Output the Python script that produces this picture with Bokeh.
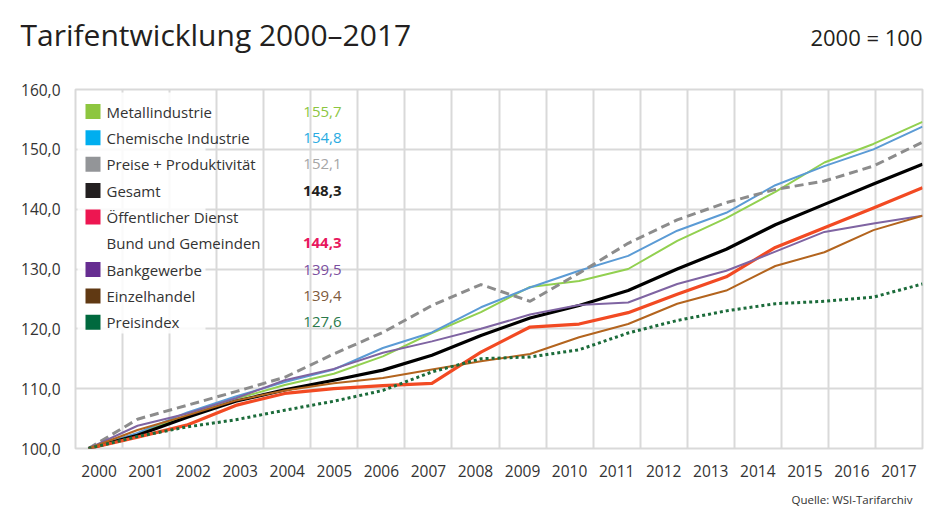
from bokeh.plotting import figure
from bokeh.models import FixedTicker, Label, Range1d, BoxAnnotation
from bokeh.embed import file_html
from bokeh.resources import INLINE

# ---------------- data ----------------
years = list(range(2000, 2018))

metall      = [100, 102.5, 105.5, 108.3, 110.6, 112.5, 115.4, 119.3, 122.8, 127.0, 128.0, 130.0, 134.7, 138.5, 142.9, 147.8, 150.9, 154.6]
chemie      = [100, 102.6, 106.0, 108.7, 111.1, 113.2, 116.8, 119.4, 123.6, 126.9, 129.7, 132.2, 136.4, 139.4, 144.0, 147.2, 150.0, 153.8]
preise_prod = [100, 104.9, 107.2, 109.5, 111.9, 115.8, 119.4, 123.9, 127.4, 124.6, 129.3, 134.3, 138.2, 141.1, 143.3, 144.7, 147.2, 151.2]
gesamt      = [100, 102.2, 105.2, 107.9, 109.8, 111.4, 113.1, 115.6, 118.9, 121.8, 123.9, 126.4, 130.0, 133.3, 137.4, 140.8, 144.2, 147.5]
oeff_dienst = [100, 101.9, 103.9, 107.2, 109.2, 110.0, 110.5, 110.9, 116.1, 120.3, 120.8, 122.7, 125.8, 128.7, 133.6, 136.9, 140.2, 143.6]
bank        = [100, 103.8, 105.8, 108.4, 111.4, 113.3, 116.0, 117.9, 120.0, 122.4, 124.0, 124.4, 127.5, 129.7, 132.9, 136.2, 137.6, 138.9]
einzel      = [100, 103.1, 105.5, 108.0, 109.7, 110.9, 111.8, 113.2, 114.6, 115.8, 118.6, 120.8, 124.2, 126.4, 130.5, 132.8, 136.5, 138.9]
preisindex  = [100, 102.0, 103.6, 104.8, 106.4, 107.9, 109.7, 112.8, 115.0, 115.3, 116.5, 119.3, 121.4, 123.0, 124.2, 124.6, 125.3, 127.5]

legend_names  = ["Metallindustrie", "Chemische Industrie", "Preise + Produktivität", "Gesamt",
                 "Öffentlicher Dienst", "Bankgewerbe", "Einzelhandel", "Preisindex"]
legend_values = [155.7, 154.8, 152.1, 148.3, 144.3, 139.5, 139.4, 127.6]

y_ticks = [100, 110, 120, 130, 140, 150, 160]
tick_years = [str(y) for y in years]

title_text = "Tarifentwicklung 2000–2017"
base_text = "2000 = 100"
source_text = "Quelle: WSI-Tarifarchiv"

# ---------------- styles ----------------
FONT = "Open Sans"
TXT = "#333333"
GRID = "#d9d9d9"

line_styles = [
    (metall,      "#92d050", 2.0, "solid"),
    (chemie,      "#5b9bd5", 2.0, "solid"),
    (preise_prod, "#8c8c8c", 3.0, "9 5"),
    (gesamt,      "#000000", 3.2, "solid"),
    (oeff_dienst, "#f24a23", 3.2, "solid"),
    (bank,        "#7f64a2", 2.0, "solid"),
    (einzel,      "#b3641e", 2.0, "solid"),
    (preisindex,  "#1b6b3a", 3.0, "3 3"),
]
square_colors = ["#8dc63f", "#00aeef", "#939598", "#231f20", "#ed1651", "#662d91", "#603913", "#00693e"]
value_colors  = ["#8cc63f", "#29abe2", "#a6a6a6", "#231f20", "#e8175d", "#7b4fa0", "#7d5a3c", "#2b7a4b"]
value_bold    = [False, False, False, True, True, False, False, False]

# ---------------- geometry (page pixels) ----------------
W, H = 940, 512
FRAME_L, FRAME_R, FRAME_T, FRAME_B = 75, 922, 89, 448
frame_w = FRAME_R - FRAME_L
frame_h = FRAME_B - FRAME_T
n_bands = len(years)
px_per_year = (frame_w - 13) / (len(years) - 1)   # lines start 13px right of frame edge
x_start = years[0] - 13 / px_per_year
x_end = years[-1]
band = (x_end - x_start) / n_bands

p = figure(width=W, height=H, output_backend="svg", toolbar_location=None,
           x_range=Range1d(x_start, x_end), y_range=Range1d(y_ticks[0], y_ticks[-1]),
           min_border_left=FRAME_L, min_border_right=W - FRAME_R,
           min_border_top=FRAME_T, min_border_bottom=H - FRAME_B,
           title=None)
p.background_fill_color = "white"
p.border_fill_color = "white"
p.outline_line_color = GRID
p.outline_line_width = 2

centers = [x_start + (i + 0.5) * band for i in range(n_bands)]
p.xaxis.ticker = FixedTicker(ticks=centers)
p.xaxis.major_label_overrides = {c: lab for c, lab in zip(centers, tick_years)}
p.yaxis.ticker = FixedTicker(ticks=y_ticks)
p.yaxis.major_label_overrides = {t: f"{t:.1f}".replace(".", ",") for t in y_ticks}
for ax in (p.xaxis[0], p.yaxis[0]):
    ax.axis_line_color = None
    ax.major_tick_line_color = None
    ax.minor_tick_line_color = None
    ax.major_label_text_font = FONT
    ax.major_label_text_font_size = "15.5px"
    ax.major_label_text_color = TXT
p.xaxis.major_label_standoff = 10
p.yaxis.major_label_standoff = 9

p.xgrid.ticker = FixedTicker(ticks=[x_start + i * band for i in range(n_bands + 1)])
p.ygrid.ticker = FixedTicker(ticks=y_ticks)
for g in (p.xgrid[0], p.ygrid[0]):
    g.grid_line_color = GRID
    g.grid_line_width = 2


def data_x(page_x):
    return x_start + (page_x - FRAME_L) / px_per_year


def data_y(page_y):
    return y_ticks[0] + (FRAME_B - page_y) * (y_ticks[-1] - y_ticks[0]) / frame_h


# soft white panel behind legend (under the lines)
p.add_layout(BoxAnnotation(left=data_x(77), right=data_x(205), top=data_y(92), bottom=data_y(333),
                           fill_color="white", fill_alpha=0.85, line_color=None, level="underlay"))

for vals, col, lw, dash in line_styles:
    p.line(years, vals, line_color=col, line_width=lw, line_dash=dash, line_join="round")

# legend
row0, row_step = 111, 26.35
rows = [0, 1, 2, 3, 4, 6, 7, 8]
sq_x = [data_x(92.5) for r in rows]
sq_y = [data_y(row0 + r * row_step) for r in rows]
p.scatter(sq_x, sq_y, marker="square", size=15, fill_color=square_colors, line_color=None)


def lab(text, px, py, **kw):
    opts = dict(text_font=FONT, text_font_size="15px", text_color=TXT, text_baseline="middle")
    opts.update(kw)
    p.add_layout(Label(x=px - FRAME_L, y=FRAME_B - py, x_units="screen", y_units="screen",
                       text=text, **opts))


for i, r in enumerate(rows):
    py = row0 + r * row_step
    lab(legend_names[i], 106, py)
    vr = r + 1 if i == 4 else r
    lab(f"{legend_values[i]:.1f}".replace(".", ","), 341, row0 + vr * row_step,
        text_align="right", text_color=value_colors[i],
        text_font_style="bold" if value_bold[i] else "normal")
lab("Bund und Gemeinden", 106, row0 + 5 * row_step)

# ---------------- texts outside the plot area (side panels, not clipped) ----------------
BASE_H = 30   # assumed height of the "2000 = 100" slot
base_lbl = Label(x=FRAME_R - FRAME_L, y=FRAME_T - 46 + 10, x_units="screen", y_units="screen",
                 text=base_text, text_font=FONT, text_font_size="22px", text_color="#231f20",
                 text_align="right", text_baseline="alphabetic")
p.add_layout(base_lbl, "above")
title_lbl = Label(x=20 - FRAME_L, y=FRAME_T - BASE_H - 46 + 12, x_units="screen", y_units="screen",
                  text=title_text, text_font=FONT, text_font_size="30px", text_color="#231f20",
                  text_align="left", text_baseline="alphabetic")
p.add_layout(title_lbl, "above")

AXIS_H, SRC_H = 33, 16
src_lbl = Label(x=912 - FRAME_L, y=FRAME_B + AXIS_H + SRC_H - 502, x_units="screen", y_units="screen",
                text=source_text, text_font=FONT, text_font_size="11.5px", text_color=TXT,
                text_align="right", text_baseline="middle")
p.add_layout(src_lbl, "below")

open("out.html", "w").write(file_html(p, INLINE))
